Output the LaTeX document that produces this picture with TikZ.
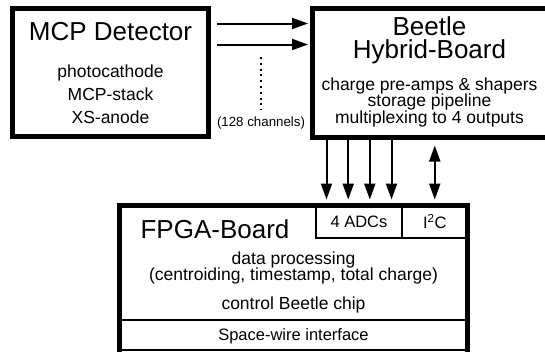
\documentclass[tikz,border=0pt]{standalone}
\usepackage{fontspec}
\setmainfont{Liberation Sans}
\usetikzlibrary{arrows.meta,positioning,calc}
\tikzset{
  board/.style=
  {
    draw=black,
    line width=5pt,
    inner sep=0pt
  },
  cell/.style=
  {
    draw=black,
    line width=2pt,
    inner sep=0pt,
    text depth=0pt,
    font=\fontsize{16.5}{18}\selectfont
  },
  title/.style=
  {
    anchor=base,
    font=\fontsize{26}{28}\selectfont
  },
  body/.style=
  {
    anchor=base,
    font=\fontsize{17.5}{20}\selectfont
  },
  signal/.style=
  {
    line width=2pt,
    -{Triangle[length=16pt,width=11pt]}
  },
  bus/.style=
  {
    line width=2pt,
    {Triangle[length=16pt,width=11pt]}-{Triangle[length=16pt,width=11pt]}
  }
 }

\begin{document}
\begin{tikzpicture}[x=1pt, y=-1pt]
          \useasboundingbox (0,0) rectangle (545,351);
          \clip (0,0) rectangle (545,351);
          % detector and front-end boxes
          \node[board, minimum width=196pt, minimum height=128pt] (mcp) at (110.5,72.5) {};
          \node[board, minimum width=236pt, minimum height=129pt] (beetle) at (430.5,72.5) {};
          \node[title] at (110.5,40) {MCP Detector};
          \node[body] at (110.5,77) {photocathode};
          \node[body] at (110.5,100) {MCP-stack};
          \node[body] at (110.5,123) {XS-anode};
          \node[title] at (429.5,35) {Beetle};
          \node[title] at (429.5,58.5) {Hybrid-Board};
          \node[body] at (429.5,90) {charge pre-amps \& shapers};
          \node[body] at (429.5,106.5) {storage pipeline};
          \node[body] at (429.5,123) {multiplexing to 4 outputs};
          % 128 input channels
          \coordinate (ch1) at (217,23.5);
          \coordinate (ch2) at (217,44.5);
          \draw[signal, shorten >=2pt] (ch1) -- (ch1 -| beetle.west);
          \draw[signal, shorten >=2pt] (ch2) -- (ch2 -| beetle.west);
          \coordinate (dots) at (260.5,57);
          \draw[line width=2pt, dash pattern=on 2pt off 3.8pt] (dots) -- ++(0,53);
          \node[anchor=base, font=\fontsize{13.3}{15}\selectfont] (nch) at (261,126.5) {(128 channels)};
          % FPGA board with its sub-blocks
          \node[cell, minimum width=86pt, minimum height=32.5pt] (adc) at (359,221.75) {4 ADCs};
          \node[cell, minimum width=65.5pt, minimum height=32.5pt] (iic) at (434.75,221.75) {I\textsuperscript{2}C};
          \node[cell, minimum width=348pt, minimum height=30pt] (spw) at (293.5,335) {Space-wire interface};
          \node[board, minimum width=348pt, minimum height=160pt] (fpga) at (293.5,285.5) {};
          \node[title] at (215,238.5) {FPGA-Board};
          \node[body] at (293.5,264) {data processing};
          \node[body] at (293.5,280.5) {(centroiding, timestamp, total charge)};
          \node[body] at (293.5,309) {control Beetle chip};
          % readout and slow control
          \foreach \dx in {-32.5,-10.8,10.8,32.5}
            \draw[signal, shorten >=5pt] ([xshift=\dx pt]adc.north |- beetle.south) -- ([xshift=\dx pt]adc.north);
          \draw[bus, shorten <=6pt, shorten >=5pt] (iic.north |- beetle.south) -- (iic.north);
        \end{tikzpicture}
\end{document}
